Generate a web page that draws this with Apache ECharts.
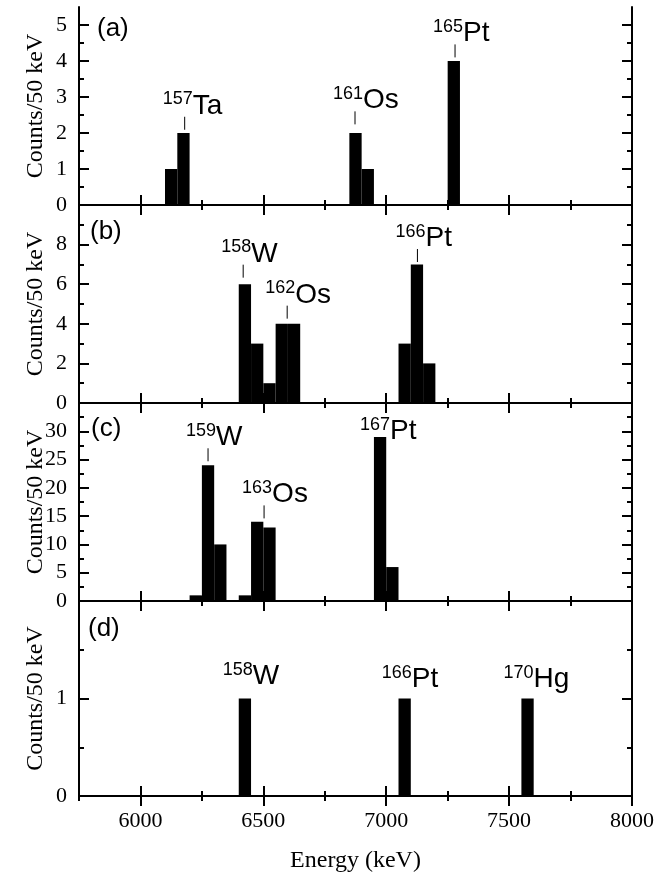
<!DOCTYPE html>
<html>
<head>
<meta charset="utf-8">
<script src="https://cdn.jsdelivr.net/npm/echarts@6/dist/echarts.min.js"></script>
<style>
html, body { margin: 0; padding: 0; background: #fff; }
#chart { width: 672px; height: 874px; }
</style>
</head>
<body>
<div id="chart"></div>
<script>
// 50 keV bins: start energy (keV) and counts, one pair of arrays per panel
const binA = [6100, 6150, 6850, 6900, 7250];
const cntA = [1, 2, 2, 1, 4];
const binB = [6400, 6450, 6500, 6550, 6600, 7050, 7100, 7150];
const cntB = [6, 3, 1, 4, 4, 3, 7, 2];
const binC = [6200, 6250, 6300, 6400, 6450, 6500, 6950, 7000];
const cntC = [1, 24, 10, 1, 14, 13, 29, 6];
const binD = [6400, 7050, 7550];
const cntD = [1, 1, 1];
const binWidth = 50;

// x axis
const xMin = 5750, xMax = 8000;
const xMajor = [6000, 6500, 7000, 7500, 8000];
const xMinor = [5750, 6250, 6750, 7250, 7750];

// y axes per panel
const yMax = [5.5, 10, 35, 2];
const yMajor = [[0, 1, 2, 3, 4, 5], [0, 2, 4, 6, 8, 10], [0, 5, 10, 15, 20, 25, 30, 35], [0, 1, 2]];
const yLabels = [[0, 1, 2, 3, 4, 5], [0, 2, 4, 6, 8], [0, 5, 10, 15, 20, 25, 30], [0, 1]];
const yMinor = [[0.5, 1.5, 2.5, 3.5, 4.5], [1, 3, 5, 7, 9], [2.5, 7.5, 12.5, 17.5, 22.5, 27.5, 32.5], [0.5, 1.5]];

// isotope labels: mass, symbol, energy of marker, count at marker foot, marker drawn?
const notesA = [['157', 'Ta', 6180, 2.09, 1], ['161', 'Os', 6873, 2.24, 1], ['165', 'Pt', 7280, 4.1, 1]];
const notesB = [['158', 'W', 6418, 6.33, 1], ['162', 'Os', 6597, 4.26, 1], ['166', 'Pt', 7127, 7.12, 1]];
const notesC = [['159', 'W', 6275, 24.7, 1], ['163', 'Os', 6503, 14.6, 1], ['167', 'Pt', 6983, 25.8, 0]];
const notesD = [['158', 'W', 6424, 0.98, 0], ['166', 'Pt', 7071, 0.95, 0], ['170', 'Hg', 7567, 0.95, 0]];

const panelNames = ['(a)', '(b)', '(c)', '(d)'];

const bins = [binA, binB, binC, binD];
const counts = [cntA, cntB, cntC, cntD];
const notes = [notesA, notesB, notesC, notesD];

const serif = '"Liberation Serif", "Times New Roman", serif';
const sans = '"Liberation Sans", Arial, sans-serif';
const supFont = '18px ' + sans;
const mainFont = '28px ' + sans;

const grids = [
  { left: 79, right: 40, top: 7, height: 198 },
  { left: 79, right: 40, top: 205, height: 198 },
  { left: 79, right: 40, top: 403, height: 198 },
  { left: 79, right: 40, top: 601, height: 197.5 }
];

const measureCtx = document.createElement('canvas').getContext('2d');
function textWidth(str, font) {
  measureCtx.font = font;
  return measureCtx.measureText(str).width;
}

const black = '#000';
const plain = v => String(v);
let xAxes = [], yAxes = [], series = [];

for (let i = 0; i < 4; i++) {
  const last = i === 3;
  ['bottom', 'top'].forEach(pos => {
    xAxes.push({
      type: 'value', gridIndex: i, position: pos, min: xMin, max: xMax,
      axisLine: { show: true, lineStyle: { color: black, width: 2 } },
      axisTick: { show: true, inside: true, length: 10, customValues: xMajor, lineStyle: { color: black, width: 2 } },
      axisLabel: {
        show: last && pos === 'bottom', customValues: xMajor, margin: 14, formatter: plain,
        color: black, fontFamily: serif, fontSize: 22
      },
      splitLine: { show: false },
      name: last && pos === 'bottom' ? 'Energy (keV)' : '',
      nameLocation: 'middle', nameGap: 53, nameMoveOverlap: false,
      nameTextStyle: { color: black, fontFamily: serif, fontSize: 24 }
    });
    xAxes.push({
      type: 'value', gridIndex: i, position: pos, min: xMin, max: xMax,
      axisLine: { show: false },
      axisTick: { show: true, inside: true, length: 5, customValues: xMinor, lineStyle: { color: black, width: 2 } },
      axisLabel: { show: false },
      splitLine: { show: false }
    });
  });
  ['left', 'right'].forEach(pos => {
    yAxes.push({
      type: 'value', gridIndex: i, position: pos, min: 0, max: yMax[i],
      axisLine: { show: true, lineStyle: { color: black, width: 2 } },
      axisTick: { show: true, inside: true, length: 10, customValues: yMajor[i], lineStyle: { color: black, width: 2 } },
      axisLabel: {
        show: pos === 'left', customValues: yLabels[i], margin: 12, formatter: plain,
        color: black, fontFamily: serif, fontSize: 22
      },
      splitLine: { show: false },
      name: pos === 'left' ? 'Counts/50 keV' : '',
      nameLocation: 'middle', nameRotate: 90, nameGap: 31, nameMoveOverlap: false,
      nameTextStyle: { color: black, fontFamily: serif, fontSize: 24 }
    });
    yAxes.push({
      type: 'value', gridIndex: i, position: pos, min: 0, max: yMax[i],
      axisLine: { show: false },
      axisTick: { show: true, inside: true, length: 5, customValues: yMinor[i], lineStyle: { color: black, width: 2 } },
      axisLabel: { show: false },
      splitLine: { show: false }
    });
  });

  // histogram bars
  series.push({
    type: 'custom', xAxisIndex: 4 * i, yAxisIndex: 4 * i,
    data: bins[i].map((b, k) => [b, counts[i][k]]),
    renderItem: function (params, api) {
      const s = api.value(0), c = api.value(1);
      const p0 = api.coord([s, 0]);
      const p1 = api.coord([s + binWidth, c]);
      return {
        type: 'rect',
        shape: { x: p0[0], y: p1[1], width: p1[0] - p0[0], height: p0[1] - p1[1] },
        style: { fill: black }
      };
    }
  });

  // isotope labels
  const list = notes[i];
  series.push({
    type: 'custom', xAxisIndex: 4 * i, yAxisIndex: 4 * i,
    data: list.map(n => [n[2], n[3]]),
    renderItem: function (params, api) {
      const n = list[params.dataIndex];
      const p = api.coord([api.value(0), api.value(1)]);
      const left = p[0] - 22;
      const base = p[1] - 14;
      const supW = textWidth(n[0], supFont);
      const children = [
        { type: 'text', style: { text: n[0], x: left, y: base - 10 - 0.35 * 18, font: supFont, fill: black, align: 'left', verticalAlign: 'middle' } },
        { type: 'text', style: { text: n[1], x: left + supW, y: base - 0.35 * 28, font: mainFont, fill: black, align: 'left', verticalAlign: 'middle' } }
      ];
      if (n[4]) {
        children.push({ type: 'line', shape: { x1: p[0], y1: p[1] - 13, x2: p[0], y2: p[1] }, style: { stroke: black, lineWidth: 1 } });
      }
      return { type: 'group', children: children };
    }
  });
}

const panelPos = [[97, 16], [90, 219], [91, 416], [88, 616]];
const graphic = panelNames.map((t, i) => ({
  type: 'text', left: panelPos[i][0], top: panelPos[i][1],
  style: { text: t, font: '26px ' + sans, fill: black }
}));

const chart = echarts.init(document.getElementById('chart'), null, { renderer: 'canvas' });
chart.setOption({
  animation: false,
  backgroundColor: '#fff',
  grid: grids,
  xAxis: xAxes,
  yAxis: yAxes,
  series: series,
  graphic: graphic
});
</script>
</body>
</html>
